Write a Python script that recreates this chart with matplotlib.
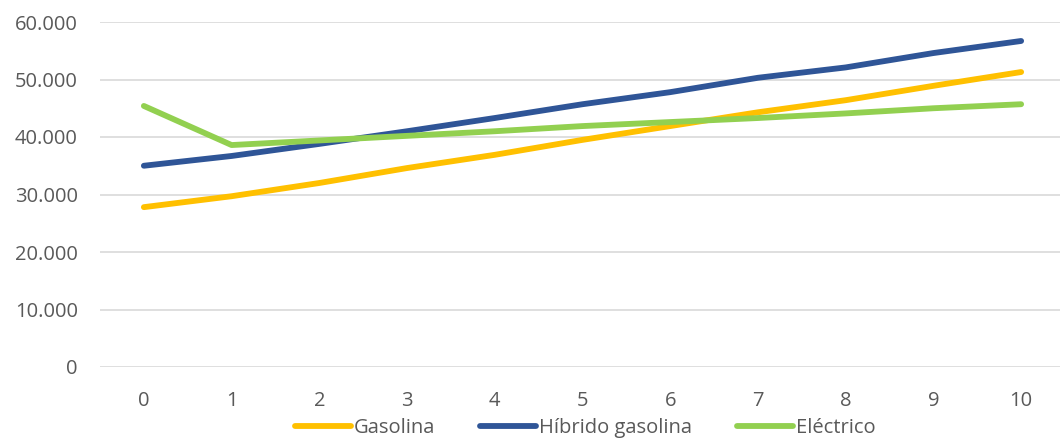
import matplotlib
matplotlib.use("Agg")
import matplotlib.pyplot as plt
from matplotlib.ticker import FuncFormatter

years = list(range(11))
gasolina = [27800, 29700, 32000, 34600, 36900, 39500, 41900, 44300, 46400, 48900, 51300]
hibrido = [35000, 36700, 38800, 41000, 43300, 45700, 47800, 50300, 52100, 54600, 56700]
electrico = [45400, 38600, 39400, 40200, 41000, 41900, 42600, 43300, 44100, 45000, 45700]
series_names = ["Gasolina", "Híbrido gasolina", "Eléctrico"]

plt.rcParams['font.family'] = ['Open Sans', 'DejaVu Sans']

fig = plt.figure(figsize=(10.6, 4.41), dpi=100)
ax = fig.add_axes([100/1060, 74/441, 965/1060, (367-22)/441])

colors = ["#FFC000", "#2F5597", "#92D050"]
for data, name, c in zip([gasolina, hibrido, electrico], series_names, colors):
    ax.plot(years, data, color=c, lw=4.2, label=name, solid_capstyle='round', solid_joinstyle='round')

ax.set_xlim(-0.5, 10.5)
ax.set_ylim(0, 60000)
ax.set_yticks(range(0, 60001, 10000))
ax.set_xticks(years)
ax.yaxis.set_major_formatter(FuncFormatter(lambda v, p: f"{int(v):,}".replace(",", ".")))
ax.grid(axis='y', color="#D9D9D9", lw=1.2)
ax.set_axisbelow(True)
for s in ax.spines.values():
    s.set_visible(False)
ax.tick_params(length=0, labelsize=14.5, colors="#595959")
ax.tick_params(axis='x', pad=17)
ax.tick_params(axis='y', pad=16)

leg = fig.legend(loc='center', bbox_to_anchor=(0.552, 0.030), ncol=3, frameon=False,
                 fontsize=14.5, handlelength=2.8, handletextpad=0.15, columnspacing=2.2)
for t in leg.get_texts():
    t.set_color("#595959")

fig.savefig("out.png", dpi=100)
